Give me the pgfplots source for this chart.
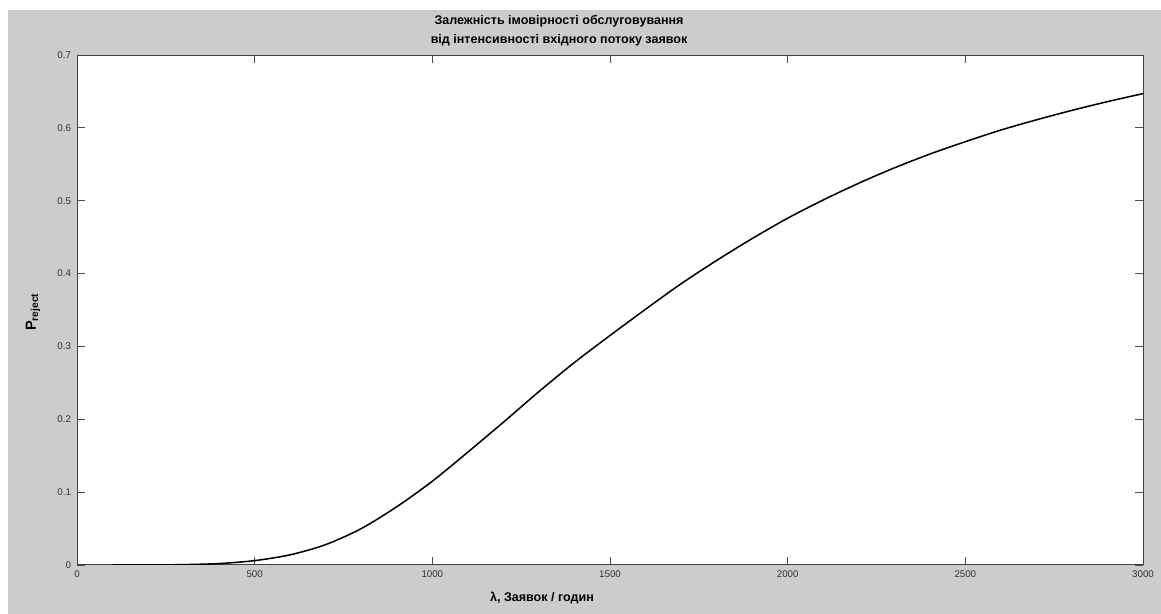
\documentclass[border=0pt]{standalone}
\usepackage{fontspec}
\setmainfont{Liberation Sans}
\usepackage{pgfplots}
\pgfplotsset{compat=1.18}
\definecolor{bg}{RGB}{204,204,204}
\begin{document}
\begin{tikzpicture}[x=0.75pt,y=0.75pt]
\fill[white] (0,0) rectangle (1161,614);
\fill[bg] (8,0) rectangle (1161,604);
\begin{axis}[
  at={(57.75pt,36.75pt)}, anchor=south west, scale only axis,
  width=799.5pt, height=382.5pt,
  xmin=0, xmax=3000, ymin=0, ymax=0.7,
  xtick={0,500,1000,1500,2000,2500,3000},
  ytick={0,0.1,0.2,0.3,0.4,0.5,0.6,0.7},
  tick align=inside, major tick length=6pt,
  axis background/.style={fill=white},
  axis line style={black!75, line width=0.75pt},
  tick style={black!70, line width=0.6pt},
  /pgf/number format/assume math mode=true,
  /pgf/number format/1000 sep={},
  scaled ticks=false,
  ticklabel style={font=\fontsize{7.3}{8}\selectfont, text=black!80},
  yticklabel style={/pgf/number format/fixed, /pgf/number format/precision=1, xshift=-1pt},
  xticklabel style={yshift=-1pt},
]
\addplot[black, line width=1.15pt, smooth] coordinates {
(100,0.0000) (200,0.0001) (300,0.0005) (400,0.002) (500,0.006)
(600,0.014) (700,0.028) (800,0.050) (900,0.080) (1000,0.115)
(1100,0.155) (1200,0.196) (1300,0.238) (1400,0.278) (1500,0.315)
(1600,0.351) (1700,0.386) (1800,0.418) (1900,0.448) (2000,0.476)
(2100,0.501) (2200,0.524) (2300,0.545) (2400,0.564) (2500,0.581)
(2600,0.597) (2700,0.611) (2800,0.624) (2900,0.636) (3000,0.647)
};
\end{axis}
\node[font=\bfseries\fontsize{9.4}{10}\selectfont] at (559,593) {Залежність імовірності обслуговування};
\node[font=\bfseries\fontsize{9.4}{10}\selectfont] at (559,574) {від інтенсивності вхідного потоку заявок};
\node[font=\bfseries\fontsize{9.4}{10}\selectfont] at (542,16) {λ, Заявок / годин};
\node[font=\bfseries\fontsize{11}{12}\selectfont, rotate=90] at (33,302) {P\textsubscript{reject}};
\end{tikzpicture}
\end{document}
